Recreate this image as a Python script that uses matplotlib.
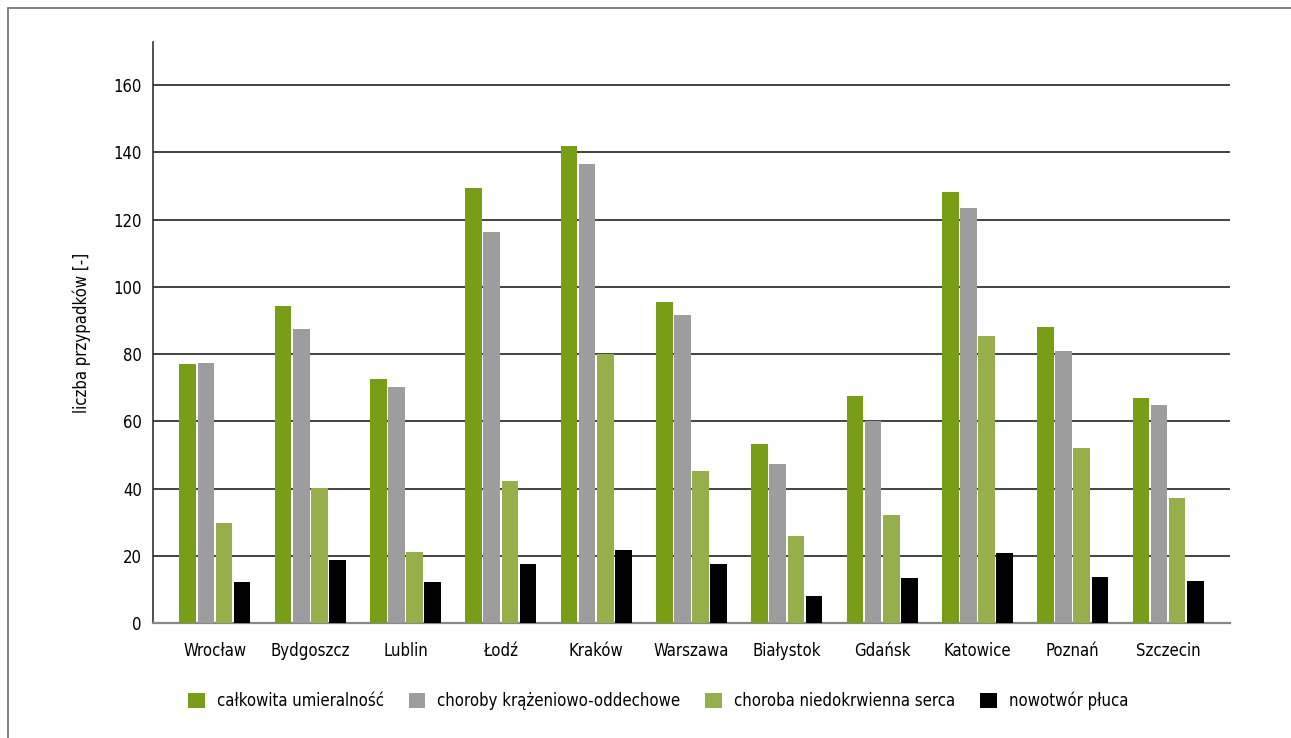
import matplotlib
matplotlib.use('Agg')
import numpy as np
import matplotlib.pyplot as plt
from matplotlib.patches import Rectangle

plt.rcParams['font.family'] = ['DejaVu Sans']
plt.rcParams['font.stretch'] = 'condensed'

miasta = ['Wrocław', 'Bydgoszcz', 'Lublin', 'Łodź', 'Kraków', 'Warszawa',
          'Białystok', 'Gdańsk', 'Katowice', 'Poznań', 'Szczecin']

calkowita = [77.0, 94.3, 72.6, 129.4, 141.9, 95.5, 53.2, 67.5, 128.2, 88.0, 66.9]
krazeniowo = [77.3, 87.4, 70.2, 116.3, 136.5, 91.6, 47.3, 60.1, 123.4, 80.9, 64.8]
niedokrwienna = [29.7, 40.1, 21.1, 42.2, 80.0, 45.2, 25.9, 32.1, 85.4, 52.0, 37.2]
nowotwor = [12.2, 18.7, 12.2, 17.5, 21.7, 17.5, 8.0, 13.4, 20.8, 13.7, 12.5]

serie = [calkowita, krazeniowo, niedokrwienna, nowotwor]
nazwy = ['całkowita umieralność', 'choroby krążeniowo-oddechowe',
         'choroba niedokrwienna serca', 'nowotwór płuca']
kolory = ['#789d16', '#9d9d9d', '#97af4b', '#000000']

fig = plt.figure(figsize=(12.91, 7.38), dpi=100)
ax = fig.add_axes([153/1291, 1-623/738, (1230-153)/1291, (623-42)/738])

# ramka wokol calego rysunku
fig.patches.append(Rectangle((8/1291, -0.1), 1.2, 1-8/738+0.1,
                             transform=fig.transFigure, fill=False,
                             edgecolor='#7a7a7a', lw=1.3))

x = np.arange(len(miasta))
krok = 0.19
szer = 0.175
for i, (dane, nazwa, kol) in enumerate(zip(serie, nazwy, kolory)):
    ax.bar(x + (i - 1.5) * krok, dane, width=szer, color=kol, label=nazwa, zorder=3)

ax.set_xlim(-0.65, len(miasta) - 0.35)
ax.set_ylim(0, 172.8)
ax.set_yticks(range(0, 161, 20))
ax.set_xticks(x)
ax.set_xticklabels(miasta, fontsize=12)
ax.tick_params(axis='y', labelsize=12, length=0, pad=8)
ax.tick_params(axis='x', length=0, pad=14)
ax.yaxis.grid(True, color='#222222', lw=1.2)
ax.set_axisbelow(True)

for s in ['top', 'right']:
    ax.spines[s].set_visible(False)
ax.spines['left'].set_color('#333333')
ax.spines['left'].set_linewidth(1.2)
ax.spines['bottom'].set_color('#888888')
ax.spines['bottom'].set_linewidth(1.6)

ax.set_ylabel('liczba przypadków [-]', fontsize=12, labelpad=16)

ax.legend(loc='upper center', bbox_to_anchor=(0.469, -0.092), ncol=4,
          frameon=False, fontsize=12, handlelength=1.0, handleheight=1.0,
          columnspacing=1.5, handletextpad=0.72)

fig.savefig('out.png', dpi=100)
